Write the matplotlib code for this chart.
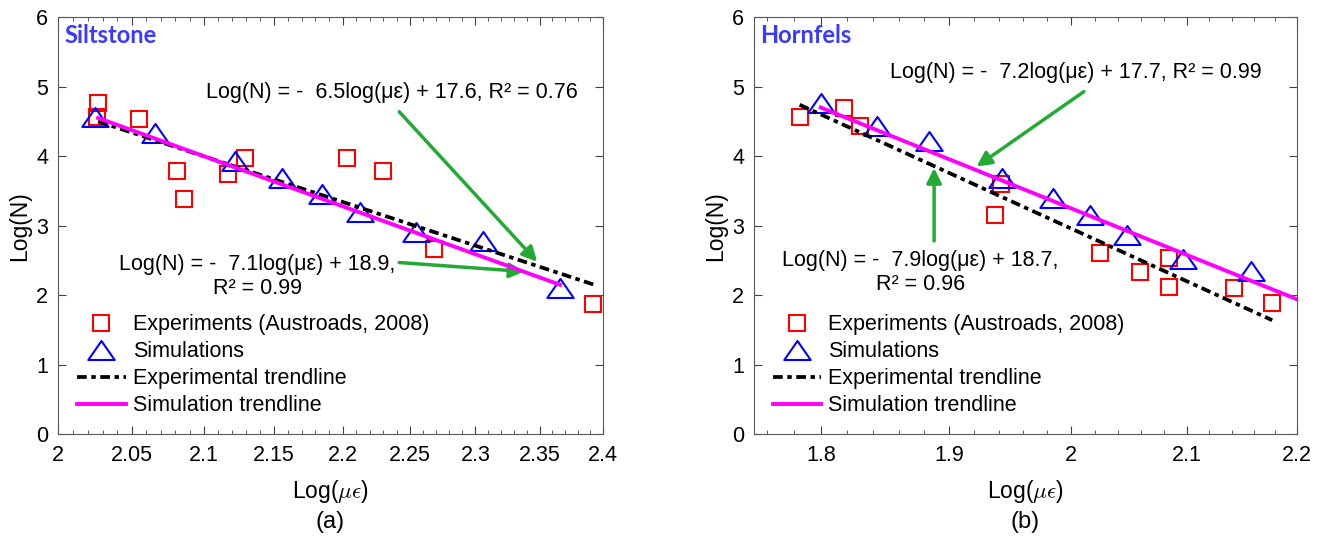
import numpy as np
import matplotlib
matplotlib.use("Agg")
import matplotlib.pyplot as plt
from matplotlib.ticker import FixedLocator, FuncFormatter, NullFormatter
from matplotlib.path import Path

plt.rcParams['font.family'] = ['Liberation Sans', 'DejaVu Sans']
plt.rcParams['mathtext.fontset'] = 'cm'

# (a) Siltstone
silt_exp_x = [2.027, 2.026, 2.055, 2.081, 2.086, 2.117, 2.129, 2.203, 2.230, 2.268, 2.392]
silt_exp_y = [4.77, 4.57, 4.54, 3.79, 3.38, 3.75, 3.98, 3.98, 3.79, 2.67, 1.88]
silt_sim_x = [2.025, 2.066, 2.122, 2.156, 2.185, 2.213, 2.255, 2.306, 2.366]
silt_sim_y = [4.57, 4.33, 3.93, 3.68, 3.45, 3.19, 2.91, 2.78, 2.10]
silt_expfit_x = [2.027, 2.395]
silt_expfit_y = [4.50, 2.14]
silt_simfit_x = [2.027, 2.366]
silt_simfit_y = [4.55, 2.15]

# (b) Hornfels
horn_exp_x = [1.784, 1.818, 1.830, 1.942, 1.937, 2.025, 2.059, 2.084, 2.084, 2.142, 2.177]
horn_exp_y = [4.57, 4.70, 4.43, 3.60, 3.16, 2.60, 2.33, 2.53, 2.12, 2.11, 1.89]
horn_sim_x = [1.800, 1.843, 1.884, 1.943, 1.985, 2.016, 2.048, 2.097, 2.158]
horn_sim_y = [4.77, 4.44, 4.22, 3.68, 3.40, 3.15, 2.87, 2.52, 2.35]
horn_expfit_x = [1.784, 2.177]
horn_expfit_y = [4.74, 1.64]
horn_simfit_x = [1.800, 2.200]
horn_simfit_y = [4.70, 1.94]

green = '#22aa33'
tri = Path([(0, 0.72), (-1, -0.72), (1, -0.72), (0, 0.72)],
           [Path.MOVETO, Path.LINETO, Path.LINETO, Path.CLOSEPOLY])
fs = 15.5


def panel(ax, ex, ey, sx, sy, efx, efy, sfx, sfy, xlim, majors, minors, name):
    ax.plot(ex, ey, 's', ms=11, mfc='none', mec='red', mew=1.5,
            label='Experiments (Austroads, 2008)', zorder=3)
    ax.plot(sx, sy, marker=tri, ls='none', ms=19, mfc='none', mec='blue',
            mew=1.5, label='Simulations', zorder=3)
    ax.plot(efx, efy, color='black', lw=2.7, dashes=(2.6, 1.2, 1.2, 1.2),
            label='Experimental trendline', zorder=4)
    ax.plot(sfx, sfy, color='magenta', lw=2.8, label='Simulation trendline',
            zorder=4)
    ax.set_xscale('log')
    ax.set_xlim(*xlim)
    ax.set_ylim(0, 6)
    ax.xaxis.set_major_locator(FixedLocator(majors))
    ax.xaxis.set_minor_locator(FixedLocator(minors))
    ax.xaxis.set_major_formatter(FuncFormatter(lambda v, p: '%g' % round(v, 2)))
    ax.xaxis.set_minor_formatter(NullFormatter())
    ax.set_yticks(range(7))
    ax.tick_params(which='both', direction='in', top=True, right=True,
                   labelsize=15.5, colors='0.25', labelcolor='black')
    ax.tick_params(axis='x', which='major', length=6, pad=8)
    ax.tick_params(axis='y', which='major', length=6, pad=7)
    ax.tick_params(which='minor', length=3)
    for s in ax.spines.values():
        s.set_color('0.35')
    ax.set_xlabel(r'Log($\mu\epsilon$)', fontsize=16.5)
    ax.xaxis.set_label_coords(0.5, -0.105)
    ax.set_ylabel('Log(N)', fontsize=16.5)
    ax.yaxis.set_label_coords(-0.05, 0.5)
    ax.text(0.012, 0.955, name, transform=ax.transAxes, fontsize=17,
            family='Lato', weight='bold', color='#3a3aff', va='center')
    ax.legend(loc='upper left', bbox_to_anchor=(0.035, 0.288), frameon=False,
              fontsize=fs, borderpad=0, borderaxespad=0, handlelength=2.25,
              handletextpad=0.33, labelspacing=0.28)


fig = plt.figure(figsize=(13.25, 5.38), dpi=100)
ax1 = fig.add_axes([0.0438, 0.193, 0.411, 0.775])
ax2 = fig.add_axes([0.569, 0.193, 0.41, 0.775])

panel(ax1, silt_exp_x, silt_exp_y, silt_sim_x, silt_sim_y,
      silt_expfit_x, silt_expfit_y, silt_simfit_x, silt_simfit_y,
      (2.0, 2.4), np.arange(2.0, 2.401, 0.05), np.arange(2.0, 2.401, 0.01),
      'Siltstone')
panel(ax2, horn_exp_x, horn_exp_y, horn_sim_x, horn_sim_y,
      horn_expfit_x, horn_expfit_y, horn_simfit_x, horn_simfit_y,
      (1.75, 2.2), np.arange(1.8, 2.201, 0.1), np.arange(1.76, 2.201, 0.02),
      'Hornfels')

arrow = dict(arrowstyle='-|>', color=green, lw=2.5, mutation_scale=22,
             shrinkA=0, shrinkB=0)

ax1.text(0.613, 0.820, 'Log(N) = -  6.5log(\u03bc\u03b5) + 17.6, R\u00b2 = 0.76',
         transform=ax1.transAxes, fontsize=fs, ha='center', va='center')
ax1.annotate('', xy=(2.348, 2.48), xytext=(2.242, 4.64), arrowprops=arrow)
ax1.text(0.366, 0.379, 'Log(N) = -  7.1log(\u03bc\u03b5) + 18.9,\nR\u00b2 = 0.99',
         transform=ax1.transAxes, fontsize=fs, ha='center', va='center',
         linespacing=1.2)
ax1.annotate('', xy=(2.338, 2.34), xytext=(2.242, 2.47), arrowprops=arrow)

ax2.text(0.593, 0.868, 'Log(N) = -  7.2log(\u03bc\u03b5) + 17.7, R\u00b2 = 0.99',
         transform=ax2.transAxes, fontsize=fs, ha='center', va='center')
ax2.annotate('', xy=(1.922, 3.85), xytext=(2.011, 4.93), arrowprops=arrow)
ax2.text(0.306, 0.388, 'Log(N) = -  7.9log(\u03bc\u03b5) + 18.7,\nR\u00b2 = 0.96',
         transform=ax2.transAxes, fontsize=fs, ha='center', va='center',
         linespacing=1.2)
ax2.annotate('', xy=(1.888, 3.83), xytext=(1.888, 2.78), arrowprops=arrow)

ax1.text(0.5, -0.211, '(a)', transform=ax1.transAxes, fontsize=17,
         ha='center', va='center')
ax2.text(0.5, -0.211, '(b)', transform=ax2.transAxes, fontsize=17,
         ha='center', va='center')

fig.savefig('out.png', dpi=100)
